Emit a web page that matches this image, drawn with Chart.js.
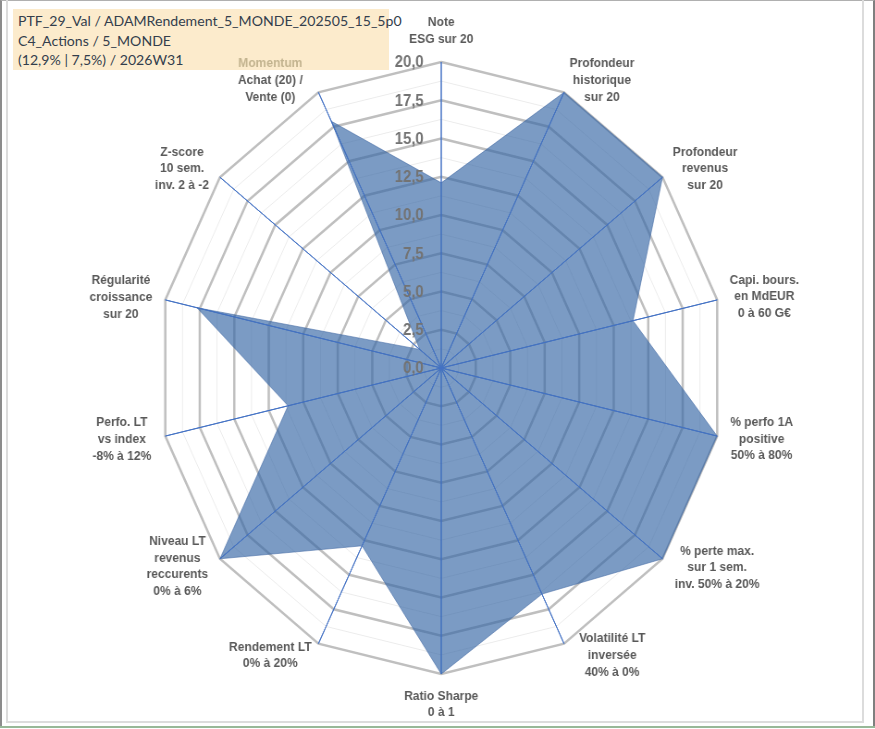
<!DOCTYPE html>
<html>
<head>
<meta charset="utf-8">
<script src="https://cdn.jsdelivr.net/npm/chart.js@4.4.1/dist/chart.umd.min.js"></script>
<style>
  html, body { margin: 0; padding: 0; background: #fff; overflow: hidden; }
  #frame { position: absolute; left: 0; top: 0; width: 875px; height: 729px; overflow: hidden; background: #fff; }
  #outer { position: absolute; left: 0; top: 0; width: 875px; height: 727px; box-sizing: border-box;
           border-left: 2px solid #8c8c8c; border-top: 1px solid #b0b0b0; border-right: 2px solid #7f7f7f; }
  #inner { position: absolute; left: 6px; top: 0; width: 858px; height: 723px; box-sizing: border-box;
           border-left: 2px solid #dcdcdc; border-right: 2px solid #dcdcdc; border-bottom: 2px solid #dcdcdc; }
  #green { position: absolute; left: 0; top: 726px; width: 875px; height: 2px; background: #98b898; }
  #title { position: absolute; left: 13px; top: 9px; width: 376px; height: 61px; background: #fcebcc;
           font-family: Lato, "Noto Sans", sans-serif; font-size: 14.1px; line-height: 19.5px; color: #333e4c;
           padding: 2px 0 0 5px; box-sizing: border-box; white-space: nowrap; }
  #wrap { position: absolute; left: 0; top: 0; width: 954px; height: 729px; transform: scaleX(0.925); transform-origin: 0 0; }
</style>
</head>
<body>
<div id="frame">
  <div id="outer"></div>
  <div id="inner"></div>
  <div id="green"></div>
  <div id="title">PTF_29_Val / ADAMRendement_5_MONDE_202505_15_5p0<br>C4_Actions / 5_MONDE<br>(12,9% | 7,5%) / 2026W31</div>
  <div id="wrap"><canvas id="radar" width="954" height="729"></canvas></div>
</div>
<script>
// axes of the radar (multi-line labels, clockwise from the top)
const criteria = [
    ['Note', 'ESG sur 20'],
    ['Profondeur', 'historique', 'sur 20'],
    ['Profondeur', 'revenus', 'sur 20'],
    ['Capi. bours.', 'en MdEUR', '0 à 60 G€'],
    ['% perfo 1A', 'positive', '50% à 80%'],
    ['% perte max.', 'sur 1 sem.', 'inv. 50% à 20%'],
    ['Volatilité LT', 'inversée', '40% à 0%'],
    ['Ratio Sharpe', '0 à 1'],
    ['Rendement LT', '0% à 20%'],
    ['Niveau LT', 'revenus', 'reccurents', '0% à 6%'],
    ['Perfo. LT', 'vs index', '-8% à 12%'],
    ['Régularité', 'croissance', 'sur 20'],
    ['Z-score', '10 sem.', 'inv. 2 à -2'],
    ['Momentum', 'Achat (20) /', 'Vente (0)']
];

// scores out of 20
const scores = [12.1, 20, 20, 13.9, 20, 20, 16.4, 20, 12.9, 20, 11.1, 17.7, 1.95, 17.9];

const tickValues = [0, 2.5, 5, 7.5, 10, 12.5, 15, 17.5, 20];

// where each label block sits, relative to the end of its axis (layout only)
const labelOffsets = [
    [0, -31], [41, -12], [46, -8.5], [51, -3], [48, 3], [59, 9], [52, 11.6],
    [0, 30.3], [-52, 11.6], [-46, 7.7], [-47, 3.5], [-48, -2.6], [-41, -8.3], [-52, -12]
];

const labelColor = '#595959';
const momentumColor = '#c2b38f';

const overlay = {
    id: 'overlay',
    afterDatasetsDraw(chart) {
        const s = chart.scales.r;
        const ctx = chart.ctx;
        ctx.save();

        // spokes stay visible above the filled area
        ctx.strokeStyle = '#4472c4';
        ctx.lineWidth = 1;
        chart.data.labels.forEach((lab, i) => {
            const p = s.getPointPosition(i, s.drawingArea);
            ctx.beginPath();
            ctx.moveTo(s.xCenter, s.yCenter);
            ctx.lineTo(p.x, p.y);
            ctx.stroke();
        });

        // value ticks, left of the top axis
        ctx.font = 'bold 16px "Liberation Sans", Arial, sans-serif';
        ctx.fillStyle = '#737373';
        ctx.textAlign = 'right';
        ctx.textBaseline = 'middle';
        tickValues.forEach(v => {
            const y = s.yCenter - s.getDistanceFromCenterForValue(v);
            ctx.fillText(v.toFixed(1).replace('.', ','), s.xCenter - 19, y + 1);
        });

        // axis labels, lines centred
        ctx.font = 'bold 13px "Liberation Sans", Arial, sans-serif';
        ctx.textAlign = 'center';
        const lh = 16.7;
        chart.data.labels.forEach((lines, i) => {
            const p = s.getPointPosition(i, s.drawingArea);
            const cx = p.x + labelOffsets[i][0];
            const cy = p.y + labelOffsets[i][1];
            const top = cy - (lines.length - 1) * lh / 2;
            lines.forEach((t, k) => {
                ctx.fillStyle = (i === 13 && k === 0) ? momentumColor : labelColor;
                ctx.fillText(t, cx, top + k * lh);
            });
        });
        ctx.restore();
    }
};

const ctx = document.getElementById('radar');

new Chart(ctx, {
    type: 'radar',
    data: {
        labels: criteria,
        datasets: [{
            label: 'Score',
            data: scores,
            fill: true,
            backgroundColor: 'rgba(52, 101, 164, 0.65)',
            borderColor: 'rgba(60, 100, 160, 0.55)',
            borderWidth: 1,
            pointRadius: 0,
            tension: 0
        }]
    },
    options: {
        responsive: false,
        animation: false,
        layout: {
            padding: { top: 62, bottom: 55, left: 0, right: 0 }
        },
        plugins: {
            legend: { display: false },
            tooltip: { enabled: false }
        },
        scales: {
            r: {
                min: 0,
                max: 20,
                ticks: { display: false, stepSize: 1.25 },
                pointLabels: { display: false },
                grid: {
                    color: c => (c.tick && c.tick.value % 2.5 === 0) ? '#bfbfbf' : '#ececec',
                    lineWidth: c => (c.tick && c.tick.value % 2.5 === 0) ? 2.5 : 1
                },
                angleLines: { color: '#4472c4', lineWidth: 1 }
            }
        }
    },
    plugins: [overlay]
});
</script>
</body>
</html>
